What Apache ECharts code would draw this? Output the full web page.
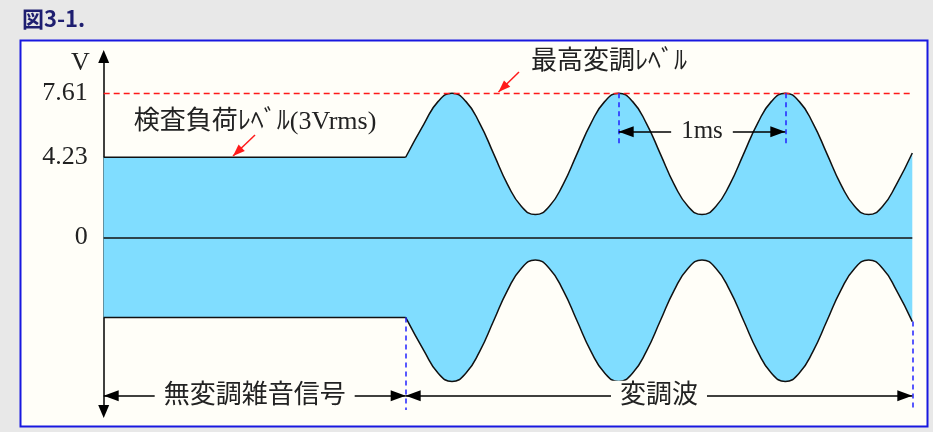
<!DOCTYPE html>
<html>
<head>
<meta charset="utf-8">
<script src="https://cdn.jsdelivr.net/npm/echarts@6.0.0/dist/echarts.min.js"></script>
<style>
html,body{margin:0;padding:0;background:#e8e8e8;}
#c{width:933px;height:432px;}
</style>
</head>
<body>
<div id="c"></div>
<script>
// ---------------- data ----------------
const titleText = '図3-1.';
const yTickValues = [0, 4.23, 7.61];          // V
const maxLevel = 7.61;                         // 最高変調レベル (V peak)
const testLevel = 4.23;                        // 検査負荷レベル 3Vrms (V peak)
const modStartT = 1.812;                       // ms, start of modulation
const modEndT = 4.852;                         // ms, right end of the picture
const peakTimes = [3.09, 4.09];                // ms, peaks marked "1ms" apart

// unmodulated noise signal envelope
const flatT = [0, 1.812];
const flatUpper = [4.23, 4.23];
const flatLower = [-4.23, -4.23];

// modulated wave envelope
const modT = [1.812, 1.923, 2.007, 2.090, 2.173, 2.257, 2.340, 2.423, 2.507, 2.590,
              2.673, 2.757, 2.840, 2.923, 3.007, 3.090, 3.173, 3.257, 3.340, 3.423,
              3.507, 3.590, 3.673, 3.757, 3.840, 3.923, 4.007, 4.090, 4.173, 4.257,
              4.340, 4.423, 4.507, 4.590, 4.673, 4.757, 4.852];
const modUpper = [4.23, 6.01, 7.18, 7.61, 7.18, 6.01, 4.41, 2.80, 1.63, 1.20,
                  1.63, 2.80, 4.41, 6.01, 7.18, 7.61, 7.18, 6.01, 4.41, 2.80,
                  1.63, 1.20, 1.63, 2.80, 4.41, 6.01, 7.18, 7.61, 7.18, 6.01,
                  4.41, 2.80, 1.63, 1.20, 1.63, 2.80, 4.45];
const modLower = [-4.23, -6.01, -7.18, -7.61, -7.18, -6.01, -4.41, -2.80, -1.63, -1.20,
                  -1.63, -2.80, -4.41, -6.01, -7.18, -7.61, -7.18, -6.01, -4.41, -2.80,
                  -1.63, -1.20, -1.63, -2.80, -4.41, -6.01, -7.18, -7.61, -7.18, -6.01,
                  -4.41, -2.80, -1.63, -1.20, -1.63, -2.80, -4.45];

const textMaxLevel = '最高変調ﾚﾍﾞﾙ';
const textTestLevel = '検査負荷ﾚﾍﾞﾙ(3Vrms)';
const textNoise = '無変調雑音信号';
const textMod = '変調波';
const textPeriod = '1ms';
const axisName = 'V';

// ---------------- chart ----------------
const serifCjk = '"Liberation Serif", "Noto Sans CJK JP", serif';
const textColor = '#222';
const fillBlue = '#80ddff';
const bg = '#fffef8';

function envSeries(name, ts, vs, smooth) {
  return {
    name, type: 'line', smooth, symbol: 'none', showSymbol: false, silent: true,
    data: ts.map((t, i) => [t, vs[i]]),
    lineStyle: { color: '#111', width: 1.5 },
    areaStyle: { color: fillBlue, opacity: 1 },
    z: 2
  };
}
// fill-only patch under the flat/modulated joint so no seam shows
function patchSeries(name, vs) {
  return {
    name, type: 'line', symbol: 'none', showSymbol: false, silent: true,
    data: [[flatT[0], vs[0]], [modStartT + 0.04, vs[1]]],
    lineStyle: { width: 0, opacity: 0 },
    areaStyle: { color: fillBlue, opacity: 1 },
    z: 1
  };
}

const dimY = -8.37;
const periodY = 5.58;

const option = {
  animation: false,
  backgroundColor: '#e8e8e8',
  title: {
    text: titleText, left: 17, top: 3,
    textStyle: { fontFamily: '"Noto Sans CJK JP", sans-serif', fontSize: 22, fontWeight: 'bold', color: '#1e1e70' }
  },
  graphic: [{
    type: 'rect', silent: true, z: -10,
    shape: { x: 20.5, y: 40.5, width: 907, height: 386 },
    style: { fill: bg, stroke: '#1818e0', lineWidth: 2 }
  }],
  grid: { left: 103.7, right: 20.7, top: 56.5, bottom: 20.5, containLabel: false },
  xAxis: { type: 'value', min: 0, max: modEndT, show: false },
  yAxis: {
    type: 'value', min: -9.2, max: 9.55,
    name: axisName, nameLocation: 'end', nameGap: -6.2,
    nameTextStyle: { fontFamily: '"Liberation Serif", serif', fontSize: 26, color: textColor,
                     align: 'right', verticalAlign: 'middle', padding: [0, 14, 0, 0] },
    axisLine: { show: true, onZero: false, symbol: ['triangle', 'triangle'], symbolSize: [11, 13],
                lineStyle: { color: '#000', width: 1.5 } },
    axisTick: { show: false },
    splitLine: { show: false },
    axisLabel: { customValues: yTickValues, margin: 16, fontSize: 26,
                 fontFamily: '"Liberation Serif", serif', color: textColor,
                 formatter: v => String(v) }
  },
  series: [
    patchSeries('patchUpper', flatUpper),
    patchSeries('patchLower', flatLower),
    envSeries('flatUpper', flatT, flatUpper, false),
    envSeries('flatLower', flatT, flatLower, false),
    envSeries('modUpper', modT, modUpper, true),
    envSeries('modLower', modT, modLower, true),
    { // zero line and max level
      name: 'levels', type: 'line', data: [], silent: true,
      markLine: {
        silent: true, symbol: 'none', label: { show: false }, animation: false,
        data: [
          { yAxis: 0, lineStyle: { color: '#111', width: 1.5, type: 'solid' } },
          { yAxis: maxLevel, lineStyle: { color: '#ff1a1a', width: 1.4, type: [6, 4] } }
        ]
      }
    },
    { // blue dashed guides
      name: 'guides', type: 'line', data: [], silent: true,
      markLine: {
        silent: true, symbol: 'none', label: { show: false }, animation: false,
        lineStyle: { color: '#2222ff', width: 1.5, type: [5, 4] },
        data: [
          [{ coord: [modStartT, -testLevel] }, { coord: [modStartT, -9.12] }],
          [{ coord: [modEndT, modLower[modLower.length - 1]] }, { coord: [modEndT, -9.2] }],
          [{ coord: [peakTimes[0], maxLevel] }, { coord: [peakTimes[0], 4.77] }],
          [{ coord: [peakTimes[1], maxLevel] }, { coord: [peakTimes[1], 4.77] }]
        ]
      }
    },
    { // red pointer arrows
      name: 'pointers', type: 'line', data: [], silent: true,
      markLine: {
        silent: true, animation: false,
        symbol: ['none', 'triangle'], symbolSize: [9, 12], symbolOffset: [[0, 0], [0, 6]],
        label: { show: false },
        lineStyle: { color: '#ff1a1a', width: 1.5, type: 'solid' },
        data: [
          [{ coord: [2.492, 8.727] }, { coord: [2.369, 7.675] }],
          [{ coord: [0.908, 5.403] }, { coord: [0.776, 4.294] }]
        ]
      }
    },
    { // bottom dimension arrows
      name: 'dims', type: 'line', data: [], silent: true,
      markLine: {
        silent: true, animation: false,
        symbol: ['triangle', 'triangle'], symbolSize: [11, 15], symbolOffset: [[0, 7.5], [0, 7.5]],
        lineStyle: { color: '#000', width: 1.5, type: 'solid' },
        label: { show: true, position: 'insideMiddle', formatter: '{b}', distance: 0,
                 align: 'center', verticalAlign: 'middle',
                 fontSize: 26, fontFamily: serifCjk, color: textColor,
                 backgroundColor: bg, padding: [2, 9] },
        data: [
          [{ name: textNoise, coord: [0, dimY] }, { name: textNoise, coord: [modStartT, dimY] }],
          [{ name: textMod, coord: [modStartT, dimY] }, { name: textMod, coord: [modEndT, dimY] }]
        ]
      }
    },
    { // 1ms period arrow
      name: 'period', type: 'line', data: [], silent: true,
      markLine: {
        silent: true, animation: false,
        symbol: ['triangle', 'triangle'], symbolSize: [11, 15], symbolOffset: [[0, 7.5], [0, 7.5]],
        lineStyle: { color: '#000', width: 1.5, type: 'solid' },
        label: { show: true, position: 'insideMiddle', formatter: '{b}', distance: 0,
                 align: 'center', verticalAlign: 'middle',
                 fontSize: 25, fontFamily: '"Liberation Serif", serif', color: textColor,
                 backgroundColor: bg, padding: [2, 10] },
        data: [
          [{ name: textPeriod, coord: [peakTimes[0], periodY] }, { name: textPeriod, coord: [peakTimes[1], periodY] }]
        ]
      }
    },
    { // text annotations
      name: 'notes', type: 'line', data: [], silent: true,
      markPoint: {
        silent: true, animation: false, symbol: 'circle', symbolSize: 1,
        itemStyle: { color: 'rgba(0,0,0,0)' },
        label: { show: true, position: 'inside', formatter: '{b}', fontSize: 26,
                 fontFamily: serifCjk, color: textColor },
        data: [
          { name: textMaxLevel, coord: [3.032, 9.259] },
          { name: textTestLevel, coord: [0.908, 6.106] }
        ]
      }
    }
  ]
};

const chart = echarts.init(document.getElementById('c'), null, { renderer: 'canvas' });
chart.setOption(option);
</script>
</body>
</html>
